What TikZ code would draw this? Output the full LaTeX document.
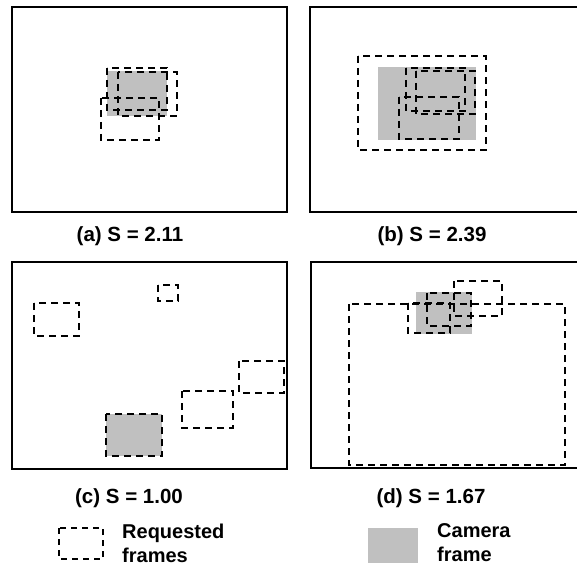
\documentclass[tikz,border=0pt]{standalone}
\usepackage{fontspec}
\setmainfont{Liberation Sans}
\definecolor{camgray}{RGB}{192,192,192}
\begin{document}
\begin{tikzpicture}[x=1pt,y=-1pt,
  frame/.style={draw=black,line width=1.6pt},
  req/.style={draw=black,line width=1.5pt,dash pattern=on 7pt off 5pt},
  cam/.style={fill=camgray},
  caption/.style={font=\bfseries\fontsize{20.5}{24}\selectfont,inner sep=0pt},
  leg/.style={font=\bfseries\fontsize{20}{24}\selectfont,align=left,anchor=west,inner sep=0pt}]
\useasboundingbox[fill=white] (0,0) rectangle (577,569);
% (a)
\draw[frame] (12,7) rectangle (287,212);
\fill[cam] (107,71) rectangle (167,116);
\draw[req] (107,68) rectangle (167,110);
\draw[req] (118,72) rectangle (177,116);
\draw[req] (101,98) rectangle (159,140);
\node[caption] (la) at (130,236) {(a) S = 2.11};
% (b)
\draw[frame] (310,7) rectangle (580,212);
\fill[cam] (378,67) rectangle (476,140);
\draw[req] (358,56) rectangle (486,150);
\draw[req] (406,68) rectangle (465,111);
\draw[req] (416,71) rectangle (475,114);
\draw[req] (399,97) rectangle (459,139);
\node[caption] (lb) at (432,236) {(b) S = 2.39};
% (c)
\draw[frame] (12,262) rectangle (287,469);
\draw[req] (158,285) rectangle (178,301);
\draw[req] (34,303) rectangle (79,336);
\draw[req] (239,361) rectangle (284,393);
\draw[req] (182,391) rectangle (233,428);
\fill[cam] (106,414) rectangle (162,456);
\draw[req] (106,414) rectangle (162,456);
\node[caption] (lc) at (129,498) {(c) S = 1.00};
% (d)
\draw[frame] (311,262) rectangle (580,468);
\fill[cam] (416,292) rectangle (472,334);
\draw[req] (349,304) rectangle (565,465);
\draw[req] (454,281) rectangle (502,316);
\draw[req] (408,303) rectangle (450,333);
\draw[req] (427,293) rectangle (471,326);
\node[caption] (ld) at (431,498) {(d) S = 1.67};
% legend
\draw[req,dash pattern=on 6pt off 5pt] (59,528) rectangle (103,559);
\node[leg] (lreq) at (122,543) {Requested\\frames};
\fill[cam] (368,528) rectangle (418,563);
\node[leg] (lcam) at (437,543) {Camera\\frame};
\end{tikzpicture}
\end{document}
